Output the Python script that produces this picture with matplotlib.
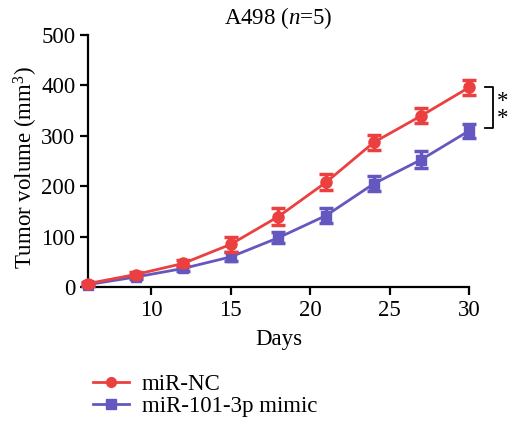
import matplotlib
matplotlib.use("Agg")
import matplotlib.pyplot as plt
from matplotlib.lines import Line2D

days = [6, 9, 12, 15, 18, 21, 24, 27, 30]
nc_mean = [7, 25, 47, 85, 140, 208, 287, 340, 396]
nc_err = [4, 5, 6, 15, 17, 16, 15, 15, 15]
mimic_mean = [5, 20, 37, 60, 98, 142, 205, 253, 310]
mimic_err = [3, 4, 5, 9, 11, 15, 15, 16, 14]
labels = ["miR-NC", "miR-101-3p mimic"]
red = "#ec4040"
blue = "#6557c0"

plt.rcParams['font.family'] = ['Liberation Serif', 'DejaVu Serif']
plt.rcParams['mathtext.fontset'] = 'custom'
plt.rcParams['mathtext.rm'] = 'Liberation Serif'
plt.rcParams['mathtext.it'] = 'Liberation Serif:italic'

FS = 16.5

fig = plt.figure(figsize=(5.11, 4.21), dpi=100)
ax = fig.add_axes([0.172, 0.318, 0.746, 0.599])

ax.errorbar(days, mimic_mean, yerr=mimic_err, color=blue, marker='s', markersize=7.5,
            linewidth=2, elinewidth=2.5, capsize=5, capthick=2.5, zorder=3, clip_on=False)
ax.errorbar(days, nc_mean, yerr=nc_err, color=red, marker='o', markersize=8,
            linewidth=2, elinewidth=2.5, capsize=5, capthick=2.5, zorder=4, clip_on=False)

ax.set_xlim(6, 30)
ax.set_ylim(0, 500)
ax.set_xticks([10, 15, 20, 25, 30])
ax.set_yticks([0, 100, 200, 300, 400, 500])
ax.spines['top'].set_visible(False)
ax.spines['right'].set_visible(False)
for s in ['left', 'bottom']:
    ax.spines[s].set_linewidth(1.6)
ax.tick_params(width=1.6, length=6, labelsize=FS, pad=3)
ax.set_xlabel("Days", fontsize=FS, labelpad=6)
ax.set_ylabel("Tumor volume (mm$^3$)", fontsize=FS)
ax.yaxis.set_label_coords(-0.125, 0.475)
ax.set_title("A498 ($\\mathit{n}$=5)", fontsize=FS, pad=8)

# significance bracket
ax.plot([31.0, 31.5, 31.5, 31.0], [396, 396, 315, 315], color='black', lw=1.3,
        clip_on=False)
ax.text(32.1, 352, "*\n*", fontsize=FS, ha='center', va='center', linespacing=0.75)

handles = [Line2D([0], [0], color=red, marker='o', markersize=7, lw=2),
           Line2D([0], [0], color=blue, marker='s', markersize=7, lw=2)]
fig.legend(handles, labels, loc='upper left', bbox_to_anchor=(0.165, 0.133),
           frameon=False, fontsize=FS, handlelength=1.55, labelspacing=0.05,
           borderaxespad=0, handletextpad=0.55)

fig.savefig("out.png", dpi=100)
